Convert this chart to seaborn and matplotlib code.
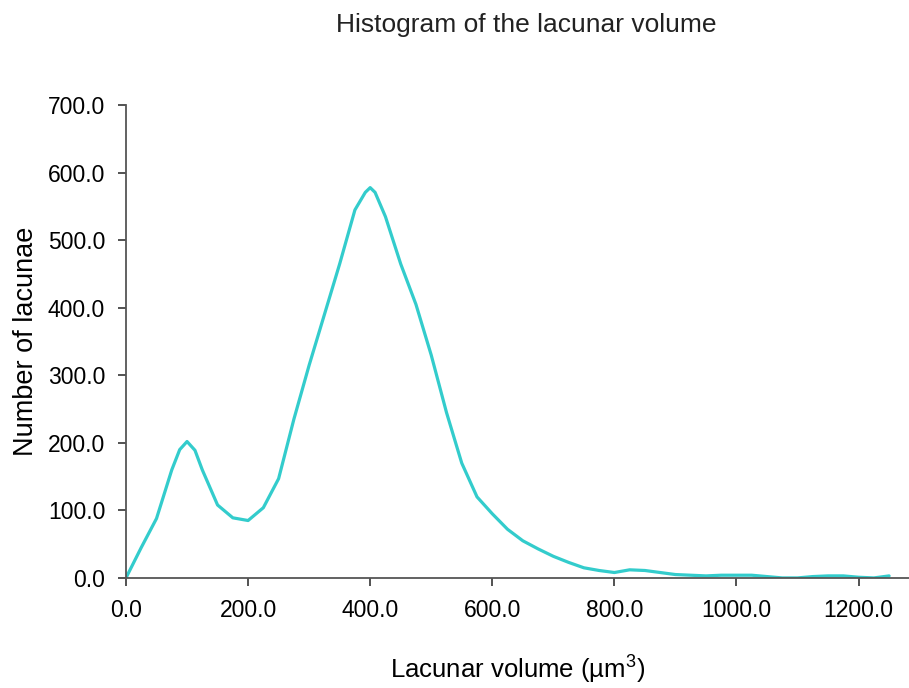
import pandas as pd
import matplotlib
matplotlib.use('Agg')
import matplotlib.pyplot as plt
import seaborn as sns

# Lacunar volume (um^3) and number of lacunae
volume = [0, 25, 50, 75, 88, 100, 113, 125, 150, 175, 200, 225, 250, 275,
          300, 325, 350, 375, 392, 400, 408, 425, 450, 475, 500, 525, 550,
          575, 600, 625, 650, 675, 700, 725, 750, 775, 800, 825, 850, 875,
          900, 925, 950, 975, 1000, 1025, 1050, 1075, 1100, 1125, 1150,
          1175, 1200, 1225, 1250]
count = [0, 45, 88, 160, 190, 202, 189, 160, 108, 89, 85, 104, 147, 235,
         315, 390, 465, 545, 571, 578, 571, 535, 465, 405, 330, 245, 170,
         120, 95, 72, 55, 43, 32, 23, 15, 11, 8, 12, 11, 8,
         5, 4, 3, 4, 4, 4, 2, 0, 0, 2, 3,
         3, 1, 0, 3]

x_ticks = [0, 200, 400, 600, 800, 1000, 1200]
y_ticks = [0, 100, 200, 300, 400, 500, 600, 700]

sns.set_style("ticks")
plt.rcParams['font.family'] = ['Liberation Sans', 'DejaVu Sans']
plt.rcParams['mathtext.fontset'] = 'custom'
plt.rcParams['mathtext.rm'] = 'Liberation Sans'
plt.rcParams['mathtext.it'] = 'Liberation Sans:italic'

df = pd.DataFrame({'volume': volume, 'count': count})

fig = plt.figure(figsize=(9.09, 6.88), dpi=100)
ax = fig.add_axes([0.1386, 0.160, 0.861, 0.687])

sns.lineplot(data=df, x='volume', y='count', ax=ax, color='#33CCCC',
             linewidth=2.3)

ax.set_xlim(0, 1282)
ax.set_ylim(0, 700)
ax.set_xticks(x_ticks)
ax.set_yticks(y_ticks)
ax.set_xticklabels([f'{v:.1f}' for v in x_ticks])
ax.set_yticklabels([f'{v:.1f}' for v in y_ticks])
ax.tick_params(axis='both', labelsize=16.5, length=6, width=1.3,
               color='#444444', labelcolor='#000000', pad=9)

for side in ['top', 'right']:
    ax.spines[side].set_visible(False)
for side in ['left', 'bottom']:
    ax.spines[side].set_color('#555555')
    ax.spines[side].set_linewidth(1.3)

ax.set_xlabel('Lacunar volume (µm$^3$)', fontsize=18.5, labelpad=23,
              color='#000000')
ax.set_ylabel('Number of lacunae', fontsize=19.5, labelpad=6, color='#000000')
fig.text(0.579, 0.963, 'Histogram of the lacunar volume', fontsize=19,
         ha='center', va='center', color='#222222')

fig.savefig('out.png', dpi=100)
